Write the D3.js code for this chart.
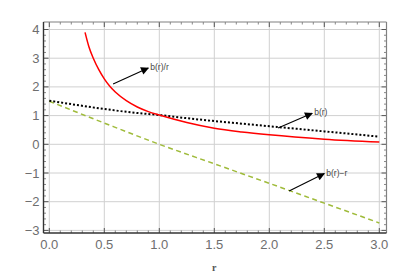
<!DOCTYPE html>
<html>
<head>
<meta charset="utf-8">
<script src="https://cdn.jsdelivr.net/npm/d3@7"></script>
<style>
  body { margin: 0; background: #fff; }
  svg { display: block; font-family: "Liberation Sans", Arial, sans-serif; }
</style>
</head>
<body>
<script>
// values
var redR   = [0.325, 0.36, 0.40, 0.45, 0.50, 0.55, 0.60, 0.70, 0.80, 0.90, 1.0, 1.25, 1.5, 1.75, 2.0, 2.5, 3.0];
var redY   = [3.90, 3.40, 3.00, 2.60, 2.28, 2.02, 1.82, 1.52, 1.30, 1.14, 1.02, 0.76, 0.56, 0.43, 0.33, 0.18, 0.08];
var bR     = [0, 0.25, 0.5, 0.75, 1.0, 1.25, 1.5, 1.75, 2.0, 2.25, 2.5, 2.75, 3.0];
var bY     = [1.52, 1.37, 1.23, 1.11, 1.02, 0.91, 0.81, 0.72, 0.63, 0.54, 0.45, 0.36, 0.265];
var bmR    = [0, 0.5, 1.0, 1.5, 2.0, 2.5, 3.0];
var bmY    = [1.5, 0.74, 0.0, -0.68, -1.36, -2.05, -2.74];
var xTicks = [0, 0.5, 1, 1.5, 2, 2.5, 3];
var yTicks = [-3, -2, -1, 0, 1, 2, 3, 4];
var notes  = [
  {text: "b(r)/r", x0: 0.58, y0: 2.10, x1: 0.90, y1: 2.66},
  {text: "b(r)",   x0: 2.08, y0: 0.57, x1: 2.39, y1: 1.08},
  {text: "b(r)\u2212r", x0: 2.18, y0: -1.63, x1: 2.50, y1: -1.02}
];

var W = 409, H = 277;
var frame = {l: 43.5, t: 22, r: 386.5, b: 233};

var x = d3.scaleLinear().domain([0, 3]).range([49.3, 379.3]);
var y = d3.scaleLinear().domain([0, 4]).range([144.3, 29.5]);

var svg = d3.select("body").append("svg")
    .attr("width", W).attr("height", H);

svg.append("defs").append("marker")
    .attr("id", "ah")
    .attr("viewBox", "0 0 10 10")
    .attr("refX", 9).attr("refY", 5)
    .attr("markerWidth", 13).attr("markerHeight", 8)
    .attr("markerUnits", "userSpaceOnUse")
    .attr("orient", "auto")
  .append("path")
    .attr("d", "M0,0 L10,5 L0,10 Z")
    .attr("fill", "#000");

// grid
svg.append("g").selectAll("line").data(xTicks).join("line")
    .attr("x1", d => x(d)).attr("x2", d => x(d))
    .attr("y1", frame.t).attr("y2", frame.b)
    .attr("stroke", "#d0d0d0").attr("stroke-width", 1);
svg.append("g").selectAll("line").data(yTicks).join("line")
    .attr("y1", d => y(d)).attr("y2", d => y(d))
    .attr("x1", frame.l).attr("x2", frame.r)
    .attr("stroke", "#d0d0d0").attr("stroke-width", 1);

// minor + major ticks on all four sides
var xMinor = d3.range(0, 3.0001, 0.1);
var yMinor = d3.range(-3, 4.0001, 0.2);
var tk = svg.append("g").attr("stroke", "#555");
xMinor.forEach(function (d) {
  var major = xTicks.some(t => Math.abs(t - d) < 1e-6);
  var len = major ? 5 : 2.5;
  tk.append("line").attr("x1", x(d)).attr("x2", x(d))
    .attr("y1", frame.b).attr("y2", frame.b - len).attr("stroke-width", major ? 1 : 0.7);
  tk.append("line").attr("x1", x(d)).attr("x2", x(d))
    .attr("y1", frame.t).attr("y2", frame.t + len).attr("stroke-width", major ? 1 : 0.7);
});
yMinor.forEach(function (d) {
  var major = yTicks.some(t => Math.abs(t - d) < 1e-6);
  var len = major ? 5 : 2.5;
  tk.append("line").attr("y1", y(d)).attr("y2", y(d))
    .attr("x1", frame.l).attr("x2", frame.l + len).attr("stroke-width", major ? 1 : 0.7);
  tk.append("line").attr("y1", y(d)).attr("y2", y(d))
    .attr("x1", frame.r).attr("x2", frame.r - len).attr("stroke-width", major ? 1 : 0.7);
});

// frame
svg.append("line").attr("x1", frame.l).attr("x2", frame.r).attr("y1", frame.t).attr("y2", frame.t)
    .attr("stroke", "#808080").attr("stroke-width", 1.2);
svg.append("line").attr("x1", frame.r).attr("x2", frame.r).attr("y1", frame.t).attr("y2", frame.b)
    .attr("stroke", "#808080").attr("stroke-width", 1.2);
svg.append("line").attr("x1", frame.l).attr("x2", frame.r).attr("y1", frame.b).attr("y2", frame.b)
    .attr("stroke", "#333").attr("stroke-width", 1.4);
svg.append("line").attr("x1", frame.l).attr("x2", frame.l).attr("y1", frame.t).attr("y2", frame.b)
    .attr("stroke", "#333").attr("stroke-width", 1.4);

// tick labels
var fmtX = d3.format(".1f");
svg.append("g").selectAll("text").data(xTicks).join("text")
    .attr("x", d => x(d)).attr("y", frame.b + 16)
    .attr("text-anchor", "middle")
    .attr("font-size", 13).attr("fill", "#6e6e6e")
    .text(d => fmtX(d));
svg.append("g").selectAll("text").data(yTicks).join("text")
    .attr("x", frame.l - 4).attr("y", d => y(d) + 4.5)
    .attr("text-anchor", "end")
    .attr("font-size", 13).attr("fill", "#6e6e6e")
    .text(d => d < 0 ? "\u2212" + Math.abs(d) : String(d));

svg.append("text")
    .attr("x", x(1.5)).attr("y", 271)
    .attr("text-anchor", "middle")
    .attr("font-family", "'Liberation Serif', 'DejaVu Serif', serif")
    .attr("font-weight", "bold")
    .attr("font-size", 10).attr("fill", "#555")
    .text("r");

// series
var line = d3.line().x(d => x(d[0])).y(d => y(d[1])).curve(d3.curveMonotoneX);
var plot = svg.append("g");

plot.append("path")
    .datum(bmR.map((r, i) => [r, bmY[i]]))
    .attr("d", line)
    .attr("fill", "none").attr("stroke", "#9fbb3a")
    .attr("stroke-width", 1.5).attr("stroke-dasharray", "5,3.5");

plot.append("path")
    .datum(bR.map((r, i) => [r, bY[i]]))
    .attr("d", line)
    .attr("fill", "none").attr("stroke", "#000")
    .attr("stroke-width", 2).attr("stroke-dasharray", "2,2");

plot.append("path")
    .datum(redR.map((r, i) => [r, redY[i]]))
    .attr("d", line)
    .attr("fill", "none").attr("stroke", "#ff0000")
    .attr("stroke-width", 1.5);

// annotations
var ann = svg.append("g");
notes.forEach(function (n) {
  ann.append("line")
    .attr("x1", x(n.x0)).attr("y1", y(n.y0))
    .attr("x2", x(n.x1)).attr("y2", y(n.y1))
    .attr("stroke", "#000").attr("stroke-width", 1.1)
    .attr("marker-end", "url(#ah)");
  ann.append("text")
    .attr("x", x(n.x1) + 2).attr("y", y(n.y1) + 2)
    .attr("font-size", 8.5).attr("fill", "#444")
    .text(n.text);
});
</script>
</body>
</html>
